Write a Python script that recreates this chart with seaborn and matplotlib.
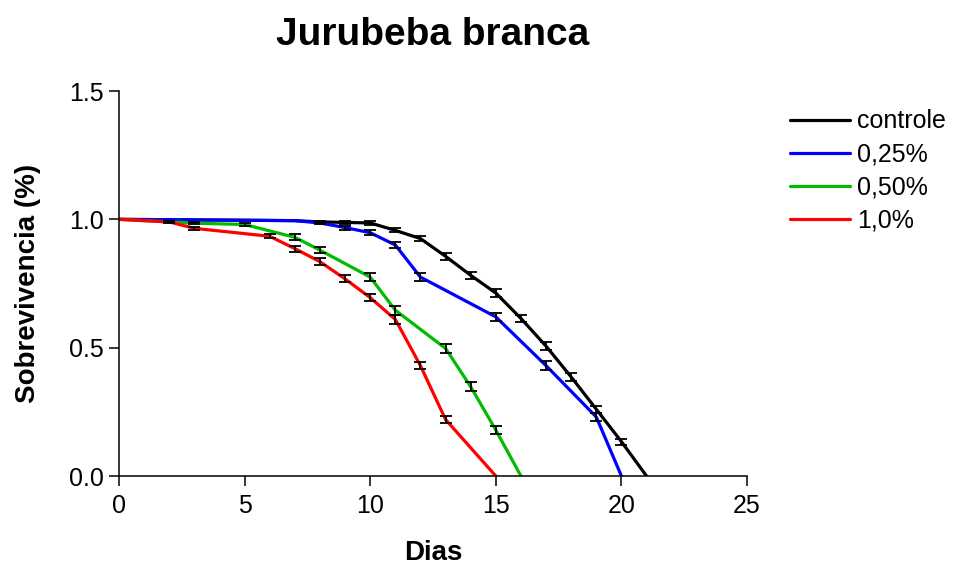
import numpy as np
import pandas as pd
import seaborn as sns
import matplotlib
matplotlib.use("Agg")
import matplotlib.pyplot as plt

# survival curves
ctrl_days = [0, 7, 8, 9, 10, 11, 12, 13, 14, 15, 16, 17, 18, 19, 20, 21]
ctrl_surv = [1.0, 0.995, 0.99, 0.988, 0.986, 0.957, 0.925, 0.856, 0.782, 0.713, 0.614, 0.506, 0.386, 0.26, 0.134, 0.0]
ctrl_sem = [0, 0, 0.004, 0.006, 0.007, 0.008, 0.01, 0.013, 0.014, 0.015, 0.015, 0.016, 0.015, 0.014, 0.012, 0]

b25_days = [0, 7, 8, 9, 10, 11, 12, 15, 17, 19, 20]
b25_surv = [1.0, 0.995, 0.986, 0.968, 0.948, 0.90, 0.775, 0.62, 0.43, 0.23, 0.0]
b25_sem = [0, 0, 0.004, 0.008, 0.01, 0.013, 0.016, 0.017, 0.017, 0.016, 0]

b50_days = [0, 3, 5, 7, 8, 10, 11, 13, 14, 15, 16]
b50_surv = [1.0, 0.985, 0.98, 0.93, 0.88, 0.775, 0.646, 0.497, 0.348, 0.179, 0.0]
b50_sem = [0, 0.004, 0.005, 0.011, 0.013, 0.016, 0.017, 0.017, 0.017, 0.015, 0]

b100_days = [0, 2, 3, 6, 7, 8, 9, 10, 11, 12, 13, 15]
b100_surv = [1.0, 0.99, 0.965, 0.934, 0.886, 0.835, 0.768, 0.695, 0.61, 0.43, 0.22, 0.0]
b100_sem = [0, 0.003, 0.006, 0.008, 0.012, 0.013, 0.014, 0.015, 0.016, 0.015, 0.013, 0]

labels = ["controle", "0,25%", "0,50%", "1,0%"]
colors = ["#000000", "#0000ff", "#00bb00", "#ff0000"]

series = [(ctrl_days, ctrl_surv, ctrl_sem), (b25_days, b25_surv, b25_sem),
          (b50_days, b50_surv, b50_sem), (b100_days, b100_surv, b100_sem)]

rows = []
for lab, (d, s, e) in zip(labels, series):
    for dd, ss, ee in zip(d, s, e):
        rows.append({"Dias": dd, "Surv": ss, "SEM": ee, "Grupo": lab})
df = pd.DataFrame(rows)

sns.set_style("ticks")
plt.rcParams['font.family'] = ['Liberation Sans', 'DejaVu Sans']
plt.rcParams['text.color'] = 'black'
plt.rcParams['axes.labelcolor'] = 'black'
plt.rcParams['xtick.color'] = 'black'
plt.rcParams['ytick.color'] = 'black'

fig = plt.figure(figsize=(9.77, 5.65), dpi=100)
ax = fig.add_axes([0.1218, 0.1575, 0.6428, 0.6814])

sns.lineplot(data=df, x="Dias", y="Surv", hue="Grupo", hue_order=labels,
             palette=colors, linewidth=2.3, sort=True, estimator=None,
             ax=ax, legend=True)

# error bars drawn after lines, only where sem > 0
for lab in labels:
    sub = df[(df["Grupo"] == lab) & (df["SEM"] > 0)]
    ax.errorbar(sub["Dias"], sub["Surv"], yerr=sub["SEM"], fmt="none",
                ecolor="black", elinewidth=1.3, capsize=4, capthick=1.3, zorder=5)

ax.set_xlim(0, 25)
ax.set_ylim(0, 1.5)
ax.set_xticks([0, 5, 10, 15, 20, 25])
ax.set_yticks([0.0, 0.5, 1.0, 1.5])
ax.set_yticklabels(["0.0", "0.5", "1.0", "1.5"])
ax.tick_params(direction="out", length=7, width=1.1, labelsize=18, pad=4,
               color="black", labelcolor="black")
ax.tick_params(axis="x", pad=6)
for sp in ["top", "right"]:
    ax.spines[sp].set_visible(False)
for sp in ["left", "bottom"]:
    ax.spines[sp].set_linewidth(1.1)
    ax.spines[sp].set_color("black")

ax.set_xlabel("Dias", fontsize=20, fontweight="bold", labelpad=16)
ax.set_ylabel("Sobrevivencia (%)", fontsize=20, fontweight="bold", labelpad=20)
fig.text(0.443, 1 - 45 / 565, "Jurubeba branca", fontsize=28, fontweight="bold",
         ha="center", va="baseline")

h, l = ax.get_legend_handles_labels()
ax.legend(h, l, loc="upper left", bbox_to_anchor=(1.052, 0.978), frameon=False,
          fontsize=18, handlelength=2.4, handletextpad=0.28, labelspacing=0.36,
          borderaxespad=0)
for line in ax.get_legend().get_lines():
    line.set_linewidth(2.3)

fig.savefig("out.png", dpi=100)
